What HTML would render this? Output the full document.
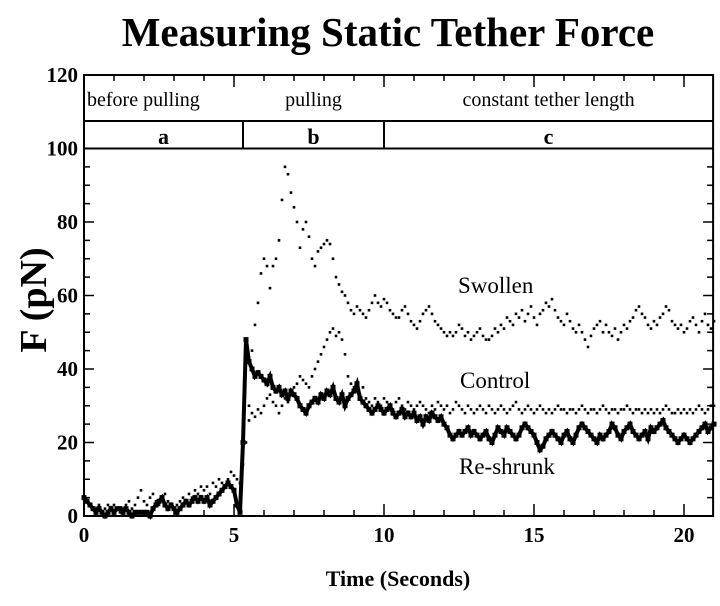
<!DOCTYPE html>
<html><head><meta charset="utf-8"><style>
html,body{margin:0;padding:0;background:#fff;}
svg{display:block;font-family:"Liberation Serif",serif;}
</style></head><body>
<svg id="chart" width="720" height="606" viewBox="0 0 720 606">
<text x="388" y="46" text-anchor="middle" font-size="41" font-weight="bold">Measuring Static Tether Force</text>
<text transform="translate(46,300) rotate(-90)" text-anchor="middle" font-size="38" font-weight="bold">F (pN)</text>
<text x="398" y="586" text-anchor="middle" font-size="22" font-weight="bold">Time (Seconds)</text>
<g id="axes"></g>
<g id="marks"></g>
<text x="458" y="293" font-size="23">Swollen</text>
<text x="460" y="388" font-size="23">Control</text>
<text x="459" y="474" font-size="23">Re-shrunk</text>
</svg>
<script>
const xTicks = [0,5,10,15,20];
const yTicks = [0,20,40,60,80,100,120];
const phaseNames = ["before pulling","pulling","constant tether length"];
const phaseLetters = ["a","b","c"];
const phaseBounds = [0,5.3,10.0,20.97];
const swollenStart = 5.5;
const controlStart = 0;
const reshrunkStart = 0;
const sampleStep = 0.1;
const swollen = [30,45,52,58,66,70,68,62,68,70,
75,86,95,93,88,84,80,73,78,80,
76,70,68,72,73,74,75,74,70,65,
63,61,60,58,56,55,57,56,55,54,
56,58,60,58,57,59,58,56,55,54,
54,56,57,55,53,52,51,53,55,56,
57,55,53,52,51,50,49,50,49,50,
52,51,49,50,48,49,50,51,49,48,
48,49,51,50,52,51,54,53,52,55,
54,56,53,55,57,54,52,55,56,58,
57,59,56,54,53,52,55,53,51,50,
52,50,48,46,49,51,52,53,50,52,
50,49,51,48,50,52,51,53,54,56,
57,55,54,52,51,53,52,54,55,57,
56,53,52,51,52,50,51,53,54,52,
50,53,55,52,51,53];
const control = [5,4,3,2,2,3,1,2,3,2,
3,2,1,2,3,4,2,3,5,7,
4,3,5,6,4,3,5,6,4,3,
2,3,4,5,4,6,5,7,6,8,
7,8,6,9,8,10,9,8,10,12,
11,10,9,14,20,26,28,27,29,28,
30,32,33,31,30,28,30,32,31,33,
35,36,38,37,36,35,38,40,42,44,
46,48,50,51,49,50,48,44,38,36,
35,34,33,35,32,31,30,32,31,30,
32,31,30,29,31,32,30,29,31,30,
29,30,31,30,29,28,30,29,31,30,
29,30,28,29,31,30,29,28,30,29,
28,29,30,29,28,30,29,28,29,30,
29,28,29,30,31,29,28,29,30,29,
28,29,30,29,28,29,28,29,30,29,
29,28,29,29,28,29,30,29,28,29,
29,28,29,30,29,28,29,29,28,29,
29,30,29,28,29,29,28,29,28,29,
28,29,28,29,30,29,28,28,29,28,
29,28,29,28,29,30,29,28,29,30,30];
const reshrunk = [5,4,3,2,1,2,1,0,1,2,
1,2,2,1,2,1,0,1,1,1,
1,1,0,2,3,4,5,3,2,3,
2,1,2,3,4,3,4,5,4,5,
4,5,3,4,5,6,7,8,9,8,
7,3,1,20,48,42,40,38,39,38,
37,36,38,35,34,35,33,34,32,34,
33,32,30,29,28,30,31,32,31,33,
32,34,33,35,32,31,33,30,32,33,
34,36,32,31,30,29,28,29,30,29,
28,29,30,28,27,28,29,27,28,27,
28,26,27,25,27,26,28,27,26,27,
25,24,22,21,22,23,22,23,24,22,
23,22,21,22,23,21,20,22,24,23,
22,24,23,22,21,22,24,25,24,23,
22,20,18,19,21,22,23,22,21,20,
22,23,21,20,22,24,25,24,23,22,
21,20,22,21,22,23,25,24,22,21,
23,24,25,23,22,21,22,23,21,24,
23,24,25,26,24,23,22,21,20,21,
22,21,20,21,22,23,24,25,23,24,25];

const X0=84, XS=30, XMAX=20.97, Y0=516, YS=3.675;
const sx = v => X0 + v*XS;
const sy = v => Y0 - v*YS;
const NS="http://www.w3.org/2000/svg";
const axes=document.getElementById('axes'), marks=document.getElementById('marks');
function mk(tag, attrs, parent){const e=document.createElementNS(NS,tag);for(const k in attrs)e.setAttribute(k,attrs[k]);parent.appendChild(e);return e;}

const L=sx(0), R=sx(XMAX), T=sy(120), B=sy(0);
let frame=mk('rect',{x:L,y:T,width:R-L,height:B-T,fill:'none',stroke:'#000','stroke-width':2},axes);


const BAND=107.5;
let bl1=mk('line',{x1:L,x2:R,y1:sy(BAND),y2:sy(BAND),stroke:'#000','stroke-width':2},axes);


let bl2=mk('line',{x1:L,x2:R,y1:sy(100),y2:sy(100),stroke:'#000','stroke-width':2},axes);


for(let i=1;i<phaseBounds.length-1;i++){
  let d=mk('line',{x1:sx(phaseBounds[i]),x2:sx(phaseBounds[i]),y1:sy(BAND),y2:sy(100),stroke:'#000','stroke-width':2},axes);
  
  
}
for(let i=0;i<3;i++){
  const cx=(sx(phaseBounds[i])+sx(phaseBounds[i+1]))/2;
  let t=mk('text',{x:i===0?L+3:cx,y:sy(111.5),'font-size':20,'text-anchor':i===0?'start':'middle'},axes);
  t.textContent=phaseNames[i];
  
  
  let a=mk('text',{x:cx,y:sy(101.2),'font-size':22,'font-weight':'bold','text-anchor':'middle'},axes);
  a.textContent=phaseLetters[i];
  
  
}
for(let v=0;v<=XMAX;v+=1){
  const major=v%5===0, len=major?12:6;
  mk('line',{x1:sx(v),x2:sx(v),y1:B,y2:B-len,stroke:'#000','stroke-width':1.5},axes);
  mk('line',{x1:sx(v),x2:sx(v),y1:T,y2:T+len,stroke:'#000','stroke-width':1.5},axes);
}
xTicks.forEach(v=>{
  let t=mk('text',{x:sx(v),y:B+26,'font-size':21,'font-weight':'bold','text-anchor':'middle'},axes);
  t.textContent=v;
  
  
});
for(let v=0;v<=100;v+=5){
  const major=v%20===0, len=major?10:6;
  mk('line',{x1:L,x2:L+len,y1:sy(v),y2:sy(v),stroke:'#000','stroke-width':1.5},axes);
  mk('line',{x1:R,x2:R-len,y1:sy(v),y2:sy(v),stroke:'#000','stroke-width':1.5},axes);
}
yTicks.forEach(v=>{
  let t=mk('text',{x:L-6,y:sy(v)+7,'font-size':21,'font-weight':'bold','text-anchor':'end'},axes);
  t.textContent=v;
  
  
});
let pts=reshrunk.map((v,i)=>sx(reshrunkStart+i*sampleStep).toFixed(1)+','+sy(v).toFixed(1)).join(' ');
let rl=mk('polyline',{points:pts,fill:'none',stroke:'#000','stroke-width':4},marks);


reshrunk.forEach((v,i)=>{
  let r=mk('rect',{x:sx(reshrunkStart+i*sampleStep)-2.5,y:sy(v)-2.5,width:5,height:5,fill:'#000'},marks);
  
  
});
control.forEach((v,i)=>{
  let r=mk('rect',{x:sx(controlStart+i*sampleStep)-1.3,y:sy(v)-1.3,width:2.6,height:2.6,fill:'#000'},marks);
  
  
});
swollen.forEach((v,i)=>{
  let r=mk('rect',{x:sx(swollenStart+i*sampleStep)-1.3,y:sy(v)-1.3,width:2.6,height:2.6,fill:'#000'},marks);
  
  
});
</script>
</body></html>
